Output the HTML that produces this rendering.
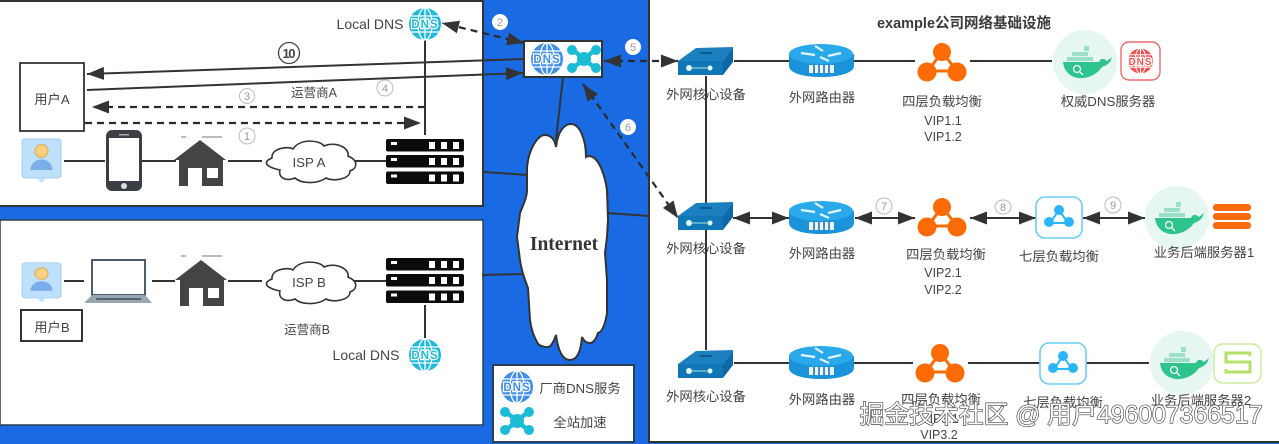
<!DOCTYPE html>
<html><head><meta charset="utf-8">
<style>
html,body{margin:0;padding:0;background:#1a6be3;width:1279px;height:444px;overflow:hidden}
svg{display:block;filter:blur(.35px)}
text{font-family:"Liberation Sans","Noto Sans CJK SC",sans-serif;fill:#444;font-size:13.3px;text-anchor:middle}
.n{fill:#999;font-size:11px}
.l{stroke:#333;stroke-width:2;fill:none}
.d{stroke:#2b2b2b;stroke-width:2.2;fill:none;stroke-dasharray:7 5}
.wm{fill:#000;opacity:.035;font-size:11px}
.dns{font-weight:700;font-size:11.5px;letter-spacing:1px;stroke:#fff;stroke-width:2.5px;paint-order:stroke}
</style></head><body>
<svg width="1279" height="444" viewBox="0 0 1279 444" xmlns="http://www.w3.org/2000/svg">
<defs>
<marker id="a" markerUnits="userSpaceOnUse" markerWidth="19" markerHeight="15" refX="17" refY="6.500" orient="auto-start-reverse"><path d="M0 0L17 6.500L0 13Z" fill="#333"/></marker>
<g id="globe"><circle r="16" fill="currentColor"/><g fill="none" stroke="#fff" stroke-width="1.3"><ellipse rx="7" ry="16"/><path d="M0-16V16M-14-8H14M-14 8H14"/></g></g>
<g id="x"><path d="M-11-9L11 9M11-9L-11 9" stroke="#1cbcd6" stroke-width="4.500"/><circle r="7" fill="#1cbcd6"/><circle cx="-12" cy="-9" r="5" fill="#1cbcd6"/><circle cx="12" cy="-9" r="5" fill="#1cbcd6"/><circle cx="-12" cy="9" r="5" fill="#1cbcd6"/><circle cx="12" cy="9" r="5" fill="#1cbcd6"/></g>
<g id="sw"><path d="M0 14L18 1L55 0L45 14Z" fill="#1b80c0"/><rect y="14" width="45" height="14" fill="#1176b6"/><path d="M45 14L55 0V15L45 28Z" fill="#0d69a5"/><circle cx="11" cy="21" r="3" fill="#dff"/><circle cx="32" cy="21" r="2.500" fill="#dff"/><path d="M14 21H29" stroke="#cfe" stroke-width=".8"/><path d="M22 6H34" stroke="#0c5a90" stroke-width="2"/></g>
<g id="rt"><path d="M0 10V22C0 29 14 33 32 33S65 29 65 22V10Z" fill="#1b93db"/><ellipse cx="32" cy="10" rx="32" ry="10" fill="#2aa9ea"/><path d="M12 9L26 11M52 9L39 12M26 2L34 7M40 17L31 13" stroke="#e4f4ff" stroke-width="2.200"/><rect x="20" y="21" width="25" height="8" fill="#e8f5fb"/><path d="M25 21V29M30 21V29M35 21V29M40 21V29" stroke="#1b6da0" stroke-width="1.500"/></g>
<g id="tri" fill="#fc6b05"><path d="M-14 19H15L0 0Z" fill="none" stroke="#fc6b05" stroke-width="3"/><circle cy="0" r="9"/><circle cx="-15" cy="20" r="9.500"/><circle cx="15" cy="20" r="9.500"/></g>
<g id="l7"><rect x="-23" y="-20" width="46" height="41" rx="9" fill="#fff" stroke="#6ccdf8" stroke-width="1.600"/><g fill="#2db5fb"><path d="M-9 6H9L0-7Z" fill="none" stroke="#2db5fb" stroke-width="2"/><circle cy="-7" r="5"/><circle cx="-10" cy="5" r="5"/><circle cx="10" cy="5" r="5"/></g></g>
<g id="dk"><circle r="32" fill="#e5f7f0"/><path d="M-22 0H14C16-5 20-3 22-1L27-5L25 0C22 3 20 4 17 5C11 14 0 17-7 16C-17 14-21 8-22 0Z" fill="#2dc48e"/><g fill="#9bdfc6"><rect x="-18" y="-5" width="26" height="4"/><rect x="-13" y="-10" width="16" height="4"/><rect x="-1" y="-16" width="5" height="5"/></g><circle cx="-8" cy="7" r="3.500" fill="none" stroke="#fff" stroke-width="1.300"/><path d="M-5 10L-2 13" stroke="#fff" stroke-width="1.300"/></g>
<g id="srv"><g fill="#0b0b0b"><rect width="78" height="12.500" rx="2"/><rect y="16" width="78" height="12.500" rx="2"/><rect y="32.500" width="78" height="12.500" rx="2"/></g><g fill="#fff"><rect x="5" y="3" width="6" height="3"/><rect x="5" y="19" width="6" height="3"/><rect x="5" y="35.500" width="6" height="3"/><path d="M43 3h6v7h-6zM55 3h6v7h-6zM67 3h6v7h-6zM43 19h6v7h-6zM55 19h6v7h-6zM67 19h6v7h-6zM43 35.500h6v7h-6zM55 35.500h6v7h-6zM67 35.500h6v7h-6z"/></g></g>
<g id="house"><path d="M0 0L26 20H23V46H2V28H-12V46H-21V20H-26Z" fill="#444"/><rect x="7" y="28" width="11" height="10" fill="#fff"/></g>
<g id="user"><rect width="39" height="39" rx="3" fill="#bfe0fb" stroke="#a4cdee"/><path d="M15 39L19.500 44L24 39Z" fill="#bfe0fb"/><circle cx="19.500" cy="12" r="6.500" fill="#fbcf7d" stroke="#d9a958"/><path d="M8.500 31C9 17 30 17 30.500 31Z" fill="#79aeea"/></g>
<path id="cl" d="M22 32C8 29 4 24 14 20C13 10 30 8 35 11C42 0 62 2 66 8C78 3 92 10 90 18C100 22 100 30 92 33C92 41 76 44 68 40C58 47 42 45 37 40C27 44 20 39 22 32Z" fill="#fff" stroke="#333" stroke-width="1.600"/>
</defs>

<rect width="1279" height="444" fill="#1a6be3"/>
<!-- panels -->
<rect x="-2" y="1" width="485" height="205" fill="#fff" stroke="#333" stroke-width="2"/>
<rect x="0" y="220" width="483" height="205" fill="#fff" stroke="#2c3e50" stroke-width="1.500"/>
<rect x="649" y="-2" width="632" height="444" fill="#fff" stroke="#333" stroke-width="2"/>

<!-- watermark -->
<g class="wm">
<text x="235" y="40" class="wm" transform="rotate(-15 235 40)">曹海鑫 1291f6f7a</text>
<text x="60" y="120" class="wm" transform="rotate(-15 60 120)">曹海鑫 1291f6f7a</text>
<text x="240" y="195" class="wm" transform="rotate(-15 240 195)">曹海鑫 1291f6f7a</text>
<text x="235" y="367" class="wm" transform="rotate(-15 235 367)">曹海鑫 1291f6f7a</text>
<text x="1205" y="125" class="wm" transform="rotate(-15 1205 125)">曹海鑫 1291f6f7a</text>
<text x="1205" y="293" class="wm" transform="rotate(-15 1205 293)">曹海鑫 1291f6f7a</text>
<text x="1015" y="288" class="wm" transform="rotate(-15 1015 288)">曹海鑫 1291f6f7a</text>
</g>

<!-- lines left -->
<path class="l" d="M64 161H105M142 161H176M228 161H262M354 161H386"/>
<path class="l" d="M64 281H84M152 281H175M228 281H262M354 281H386"/>
<path class="l" stroke-width="1.500" d="M425 39V135M425 305V338"/>
<path class="l" d="M484 172L527 175M482 275L522 274M607 213L649 216M563 77L556 140"/>
<path class="l" d="M524 59L87 74" marker-end="url(#a)"/>
<path class="l" d="M87 90L523 73" marker-end="url(#a)"/>
<path class="d" d="M425 107H92" marker-end="url(#a)"/>
<path class="d" d="M85 123H421" marker-end="url(#a)"/>
<path class="d" d="M524 43L442 23" marker-start="url(#a)" marker-end="url(#a)"/>
<path class="d" d="M604 61H678" marker-start="url(#a)" marker-end="url(#a)"/>
<path class="d" d="M583 84L678 218" marker-start="url(#a)" marker-end="url(#a)"/>

<!-- lines right -->
<path class="l" d="M706 76V350M734 61H789M854 61H915M970 61H1052M734 363H789M854 363H913M968 363H1040M1086 363H1149"/>
<g class="l" fill="none" stroke="#333" stroke-width="2">
<path d="M733 218H789" marker-start="url(#a)" marker-end="url(#a)"/>
<path d="M855 218H915" marker-start="url(#a)" marker-end="url(#a)"/>
<path d="M970 218H1036" marker-start="url(#a)" marker-end="url(#a)"/>
<path d="M1083 218H1145" marker-start="url(#a)" marker-end="url(#a)"/>
</g>

<!-- user boxes -->
<rect x="20" y="63" width="64" height="68" fill="#fff" stroke="#333" stroke-width="1.800"/>
<text x="52" y="104">用户A</text>
<rect x="21" y="310" width="61" height="31" fill="#fff" stroke="#333" stroke-width="2"/>
<text x="52" y="332">用户B</text>

<use href="#user" x="22" y="139"/>
<use href="#user" x="22" y="262" transform="translate(0 27) scale(1 .9)"/>
<!-- phone -->
<rect x="106" y="130" width="36" height="61" rx="6" fill="#3b3f45"/><rect x="109" y="138" width="30" height="43" fill="#fff"/><circle cx="124" cy="186" r="3" fill="#ddd"/><rect x="119" y="134" width="10" height="1.500" fill="#aaa"/>
<!-- laptop -->
<rect x="92" y="260" width="53" height="35" fill="#fff" stroke="#4c5c6e" stroke-width="2"/><path d="M92 295H145L152 303H84Z" fill="#9aa7b0"/><rect x="96" y="298" width="45" height="2" fill="#56646e"/>
<!-- houses -->
<use href="#house" x="200" y="140"/>
<use href="#house" x="201" y="260"/>
<path d="M181 137H186M202 137H222M181 256H186M202 256H222" stroke="#777" stroke-width="1"/>
<!-- isp clouds -->
<use href="#cl" x="258" y="138"/>
<use href="#cl" x="258" y="259"/>
<text x="309" y="167">ISP A</text>
<text x="309" y="287">ISP B</text>
<use href="#srv" x="386" y="139"/>
<use href="#srv" x="386" y="258"/>
<!-- DNS local -->
<use href="#globe" x="425" y="24" color="#1fb9d9"/><text class="dns" x="425" y="28" style="fill:#1fb9d9">DNS</text>
<use href="#globe" x="425" y="355" color="#1fb9d9"/><text class="dns" x="425" y="359" style="fill:#1fb9d9">DNS</text>
<text x="370" y="29" style="font-size:14px">Local DNS</text>
<text x="366" y="360" style="font-size:14px">Local DNS</text>
<text x="314" y="97" style="font-size:12.500px">运营商A</text>
<text x="307" y="334" style="font-size:12.500px">运营商B</text>

<!-- number marks -->
<circle cx="289" cy="53" r="10.500" fill="none" stroke="#444" stroke-width="1.300"/><text x="289" y="58" style="font-size:13px;font-weight:700" textLength="13">10</text>
<g fill="#fff" stroke="#bbb" stroke-width="1">
<circle cx="247" cy="136" r="8"/><circle cx="247" cy="96" r="7.500"/><circle cx="385" cy="88" r="8"/>
<circle cx="884" cy="206" r="8"/><ellipse cx="1003" cy="207" rx="8" ry="7"/><circle cx="1113" cy="205" r="8"/>
</g>
<g fill="#fff"><circle cx="500" cy="22" r="8"/><circle cx="633" cy="47" r="8"/><circle cx="628" cy="127" r="8"/></g>
<text class="n" x="247" y="140">1</text><text class="n" x="247" y="100">3</text><text class="n" x="385" y="92">4</text>
<text class="n" x="500" y="26">2</text><text class="n" x="633" y="51">5</text><text class="n" x="628" y="131">6</text>
<text class="n" x="884" y="210">7</text><text class="n" x="1003" y="211">8</text><text class="n" x="1113" y="209">9</text>

<!-- CDN box -->
<rect x="524" y="41" width="78" height="36" fill="#fff" stroke="#333" stroke-width="2"/>
<use href="#globe" transform="translate(547 59)" color="#3f8ee8"/><text class="dns" x="547" y="63" style="fill:#3f8ee8">DNS</text>
<use href="#x" transform="translate(584 59)"/>

<!-- Internet cloud -->
<path d="M556 147C558 130 565 124 571 124C580 124 586 140 586 157C596 152 604 170 607 190L608 220L607 237L605 253L607 280L607 313C605 325 602 332 598 333C595 342 592 343 590 343C586 343 583 340 582 337C581 350 578 360 570 360C562 360 558 350 556 335C553 344 550 347 548 347C542 347 538 345 537 342C533 335 531 328 530 320L528 288C524 278 521 268 520 260L517 237L520 213C523 205 527 198 527 190L527 167C529 148 538 135 545 135C551 135 555 140 556 147Z" fill="#fff" stroke="#333" stroke-width="2"/>
<text x="564" y="250" style="font-family:'Liberation Serif',serif;font-weight:700;font-size:19.500px;fill:#333">Internet</text>

<!-- legend -->
<rect x="493" y="365" width="141" height="77" fill="#fff" stroke="#2c3e50" stroke-width="2"/>
<use href="#globe" transform="translate(517 387)" color="#3f8ee8"/><text class="dns" x="517" y="391" style="fill:#3f8ee8">DNS</text>
<use href="#x" transform="translate(517 421)"/>
<text x="580" y="393">厂商DNS服务</text>
<text x="580" y="427">全站加速</text>

<!-- right icons -->
<use href="#sw" x="678" y="47"/><use href="#sw" x="678" y="202"/><use href="#sw" x="678" y="350"/>
<use href="#rt" x="789" y="44"/><use href="#rt" x="789" y="201"/><use href="#rt" x="789" y="346"/>
<use href="#tri" x="942" y="52"/><use href="#tri" x="942" y="207"/><use href="#tri" x="940" y="353"/>
<use href="#l7" x="1059" y="217"/><use href="#l7" x="1063" y="363"/>
<use href="#dk" x="1085" y="62"/><use href="#dk" x="1177" y="218"/><use href="#dk" x="1182" y="363"/>
<rect x="1121" y="42" width="39" height="38" rx="8" fill="#fff" stroke="#ef6a6a" stroke-width="1.400"/>
<use href="#globe" transform="translate(1140.500 61) scale(.78)" color="#ee5350"/><text class="dns" x="1140.500" y="65" style="fill:#ee5350;font-size:10px">DNS</text>
<g fill="#fb6a0c"><rect x="1213" y="204" width="38" height="7" rx="3"/><rect x="1213" y="213" width="38" height="7" rx="3"/><rect x="1213" y="222" width="38" height="7" rx="3"/></g>
<rect x="1214" y="344" width="47" height="39" rx="9" fill="#fff" stroke="#cdeb9e" stroke-width="1.500"/>
<path d="M1250 356V353H1226V362H1250V372H1226V369" fill="none" stroke="#b5e06a" stroke-width="3"/>

<!-- right labels -->
<text x="964" y="28" style="font-size:14.500px;font-weight:700;fill:#3a3a3a">example公司网络基础设施</text>
<text x="706" y="99">外网核心设备</text><text x="706" y="253">外网核心设备</text><text x="706" y="401">外网核心设备</text>
<text x="822" y="102">外网路由器</text><text x="822" y="258">外网路由器</text><text x="822" y="404">外网路由器</text>
<text x="942" y="106">四层负载均衡</text><text x="943" y="125" style="font-size:12.500px">VIP1.1</text><text x="943" y="141" style="font-size:12.500px">VIP1.2</text>
<text x="946" y="259">四层负载均衡</text><text x="943" y="277" style="font-size:12.500px">VIP2.1</text><text x="943" y="294" style="font-size:12.500px">VIP2.2</text>
<text x="941" y="404">四层负载均衡</text><text x="940" y="423" style="font-size:12.500px">VIP3.1</text><text x="939" y="439" style="font-size:12.500px">VIP3.2</text>
<text x="1059" y="261">七层负载均衡</text><text x="1063" y="407">七层负载均衡</text>
<text x="1108" y="106">权威DNS服务器</text>
<text x="1204" y="257">业务后端服务器1</text>
<text x="1201" y="405">业务后端服务器2</text>

<!-- site overlay -->
<text x="1061" y="423" style="font-size:24.800px;fill:#fff;stroke:#444;stroke-width:1.300px;paint-order:stroke">掘金技术社区 @ 用户496007366517</text>
</svg>
</body></html>
